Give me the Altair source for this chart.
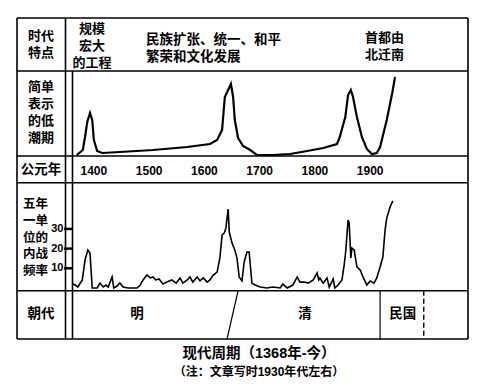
import altair as alt
import pandas as pd

# ---------------- data ----------------
top_years = [1369, 1380, 1384, 1388, 1393, 1397, 1400, 1406, 1415, 1447, 1507, 1569,
             1610, 1623, 1632, 1637, 1643, 1648, 1652, 1655, 1661, 1670, 1683, 1695,
             1724, 1755, 1786, 1815, 1840, 1845, 1855, 1860, 1865, 1869, 1876, 1885,
             1894, 1903, 1912, 1918, 1930, 1940, 1945]
top_vals = [1, 6, 19, 34, 43, 36, 16, 5, 3, 4, 6, 9,
            12, 16, 26, 59, 66, 72, 59, 36, 18, 10, 6, 1,
            1, 2, 5, 8, 12, 19, 39, 61, 66, 59, 39, 19,
            7, 2, 3, 9, 36, 63, 79]

war_years = [1362, 1366, 1371, 1379, 1384, 1389, 1393, 1397, 1398, 1406, 1411, 1417,
             1422, 1426, 1433, 1436, 1442, 1447, 1453, 1462, 1478, 1484, 1489, 1496,
             1502, 1507, 1512, 1518, 1525, 1532, 1541, 1549, 1556, 1561, 1569, 1574,
             1579, 1587, 1592, 1598, 1605, 1610, 1616, 1623, 1628, 1632, 1636, 1639,
             1641, 1643, 1645, 1650, 1655, 1659, 1663, 1668, 1672, 1677, 1681, 1686,
             1692, 1701, 1713, 1724, 1737, 1742, 1750, 1760, 1768, 1773, 1780, 1788,
             1797, 1804, 1807, 1809, 1815, 1822, 1826, 1833, 1836, 1842, 1849, 1853,
             1856, 1860, 1862, 1865, 1867, 1871, 1876, 1882, 1887, 1894, 1900, 1907,
             1912, 1918, 1923, 1927, 1930, 1936, 1941]
war_vals = [2.0, 1.5, 0.5, 4.1, 14.2, 19.3, 17.8, 0, 0, 0, 2.5, 0.5,
            1.5, 0.5, 5.6, 0, 1.0, 2.5, 0.5, 0, 0, 1.5, 4.1, 6.6,
            5.1, 5.6, 4.1, 4.6, 2.0, 3.0, 4.1, 2.5, 5.1, 2.5, 4.1, 5.6,
            3.0, 5.6, 3.6, 5.1, 3.0, 4.1, 6.6, 8.1, 15.2, 26.9, 27.9, 30.5,
            35.5, 40.1, 28.4, 22.8, 19.3, 15.2, 5.6, 3.6, 13.2, 18.3, 18.3, 2.5,
            1.5, 0.5, 0, 0.5, 0, 2.0, 0, 1.5, 5.6, 3.0, 3.0, 2.5,
            4.1, 7.6, 4.1, 5.1, 2.5, 5.1, 0.5, 4.6, 0, 1.5, 4.1, 11.7,
            19.3, 34.5, 33.0, 15.2, 20.3, 19.3, 10.7, 9.1, 5.6, 1.5, 3.6, 2.5,
            5.1, 10.7, 15.7, 29.4, 35.5, 41.1, 44.2]

axis_years = [1400, 1500, 1600, 1700, 1800, 1900]
axis_labels = ["1400", "1500", "1600", "1700", "1800", "1900"]
war_ticks = [10, 20, 30]
war_tick_labels = ["10", "20", "30"]

dynasties = ["明", "清", "民国"]
dynasty_mid = [1478, 1782, 1959]
bound_top = [1661, 1918]
bound_bottom = [1641, 1918]
dash_bound = [1997]

# ---------------- styling / layout ----------------
CJK = "Liberation Sans, Noto Sans CJK SC"
NUM = "Liberation Sans"
XS = alt.Scale(domain=[1244.6, 2102.4], nice=False, zero=False)
TOPS = alt.Scale(domain=[0, 85], range=[148, 63], nice=False, zero=False)
WARS = alt.Scale(domain=[0, 50], range=[280, 181.5], nice=False, zero=False)
LW = 1.6
one = pd.DataFrame({"k": [0]})


def hrule(y, x1, x2, w=LW):
    return alt.Chart(one).mark_rule(color="black", strokeWidth=w).encode(
        x=alt.value(x1), x2=alt.value(x2), y=alt.value(y))


def vrule(x, y1, y2, w=LW):
    return alt.Chart(one).mark_rule(color="black", strokeWidth=w).encode(
        x=alt.value(x), y=alt.value(y1), y2=alt.value(y2))


def label(lines, x, y0, dy=17, align="center", size=13, font=CJK):
    out = []
    for i, s in enumerate(lines):
        out.append(alt.Chart(one).mark_text(
            align=align, baseline="middle", fontSize=size, fontWeight="bold",
            font=font, color="black").encode(
            x=alt.value(x), y=alt.value(y0 + i * dy), text=alt.value(s)))
    return out


layers = []
# table frame
L, R, T, B = 9, 460, 10, 331
for y in [T, 63, 148, 174.7, 282.7, B]:
    layers.append(hrule(y, L, R))
layers.append(vrule(L, T, B))
layers.append(vrule(R, T, B))
layers.append(vrule(57.5, T, B))
layers.append(vrule(64.5, 63, B))

# row labels
layers += label(["时代", "特点"], 33, 28)
layers += label(["简单", "表示", "的低", "潮期"], 33, 79, dy=17)
layers += label(["公元年"], 33, 162, size=13.5)
layers += label(["五年", "一单", "位的", "内战", "频率"], 15, 196, dy=16.8,
                align="left", size=12.5)
layers += label(["朝代"], 33, 306, size=13.5)

# header texts
layers += label(["规模", "宏大", "的工程"], 84, 21, dy=17)
layers += label(["民族扩张、统一、和平", "繁荣和文化发展"], 138, 32, dy=17,
                align="left", size=13.5)
layers += label(["首都由", "北迁南"], 357, 30, dy=16.5, align="left")

# bottom titles
layers += label(["现代周期（1368年-今）"], 251, 346, size=14.5)
layers += label(["（注：文章写时1930年代左右）"], 251, 364, size=12)

# curves
top_df = pd.DataFrame({"year": top_years, "level": top_vals})
layers.append(alt.Chart(top_df).mark_line(color="black", strokeWidth=2.2).encode(
    x=alt.X("year:Q", scale=XS, axis=None),
    y=alt.Y("level:Q", scale=TOPS, axis=None)))

war_df = pd.DataFrame({"year": war_years, "freq": war_vals})
layers.append(alt.Chart(war_df).mark_line(color="black", strokeWidth=1.6).encode(
    x=alt.X("year:Q", scale=XS, axis=None),
    y=alt.Y("freq:Q", scale=WARS, axis=None)))

# war axis ticks + labels
tick_df = pd.DataFrame({"v": war_ticks, "lab": war_tick_labels})
layers.append(alt.Chart(tick_df).mark_rule(color="black", strokeWidth=2.5).encode(
    x=alt.value(56), x2=alt.value(64.5),
    y=alt.Y("v:Q", scale=WARS, axis=None)))
layers.append(alt.Chart(tick_df).mark_text(
    align="right", baseline="middle", fontSize=11, fontWeight="bold",
    font=NUM, color="black").encode(
    x=alt.value(55.5), y=alt.Y("v:Q", scale=WARS, axis=None), text="lab:N"))

# year labels
yr_df = pd.DataFrame({"year": axis_years, "lab": axis_labels})
layers.append(alt.Chart(yr_df).mark_text(
    baseline="middle", fontSize=12, fontWeight="bold", font=NUM, color="black").encode(
    x=alt.X("year:Q", scale=XS, axis=None), y=alt.value(163), text="lab:N"))

# dynasty boundaries and names
bd_df = pd.DataFrame({"t": bound_top, "b": bound_bottom})
layers.append(alt.Chart(bd_df).mark_rule(color="black", strokeWidth=1.2).encode(
    x=alt.X("t:Q", scale=XS, axis=None), x2="b:Q",
    y=alt.value(282.7), y2=alt.value(B)))
dd_df = pd.DataFrame({"t": dash_bound})
layers.append(alt.Chart(dd_df).mark_rule(color="black", strokeWidth=1.4,
                                         strokeDash=[5, 3]).encode(
    x=alt.X("t:Q", scale=XS, axis=None),
    y=alt.value(282.7), y2=alt.value(B)))
dy_df = pd.DataFrame({"year": dynasty_mid, "name": dynasties})
layers.append(alt.Chart(dy_df).mark_text(
    baseline="middle", fontSize=13.5, fontWeight="bold", font=CJK, color="black").encode(
    x=alt.X("year:Q", scale=XS, axis=None), y=alt.value(306), text="name:N"))

chart = alt.layer(*layers).resolve_scale(y="independent").properties(
    width=474, height=371, padding=0, autosize="none",
    background="white").configure_view(stroke=None)

chart.save("out.html", embed_options={"renderer": "svg", "actions": False})
